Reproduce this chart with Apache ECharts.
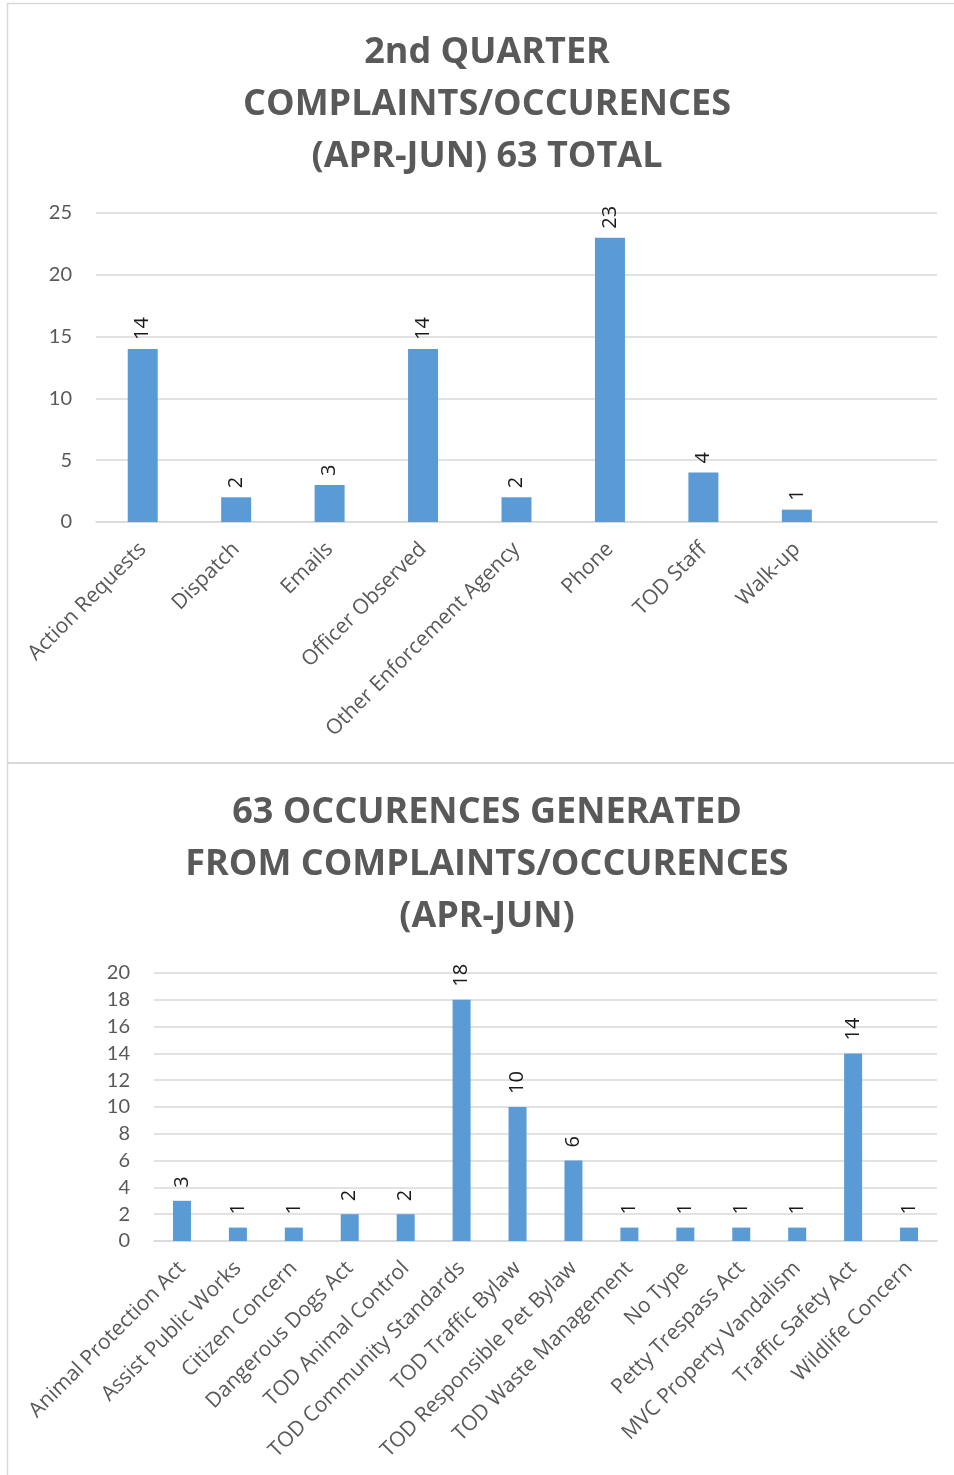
<!DOCTYPE html>
<html>
<head>
<meta charset="utf-8">
<script src="https://cdn.jsdelivr.net/npm/echarts@6/dist/echarts.min.js"></script>
<style>
  html, body { margin: 0; padding: 0; background: #fff; }
  #chart { width: 954px; height: 1475px; }
</style>
</head>
<body>
<div id="chart"></div>
<script>
// Complaint sources, April to June (last slot is an empty category)
const sourceCategories = ['Action Requests', 'Dispatch', 'Emails', 'Officer Observed',
  'Other Enforcement Agency', 'Phone', 'TOD Staff', 'Walk-up', ''];
const sourceCounts = [14, 2, 3, 14, 2, 23, 4, 1, null];

// Occurrence types generated from those complaints
const typeCategories = ['Animal Protection Act', 'Assist Public Works', 'Citizen Concern',
  'Dangerous Dogs Act', 'TOD Animal Control', 'TOD Community Standards', 'TOD Traffic Bylaw',
  'TOD Responsible Pet Bylaw', 'TOD Waste Management', 'No Type', 'Petty Trespass Act',
  'MVC Property Vandalism', 'Traffic Safety Act', 'Wildlife Concern'];
const typeCounts = [3, 1, 1, 2, 2, 18, 10, 6, 1, 1, 1, 1, 14, 1];

const topTitle = ['2nd QUARTER', 'COMPLAINTS/OCCURENCES', '(APR-JUN) 63 TOTAL'];
const bottomTitle = ['63 OCCURENCES GENERATED', 'FROM COMPLAINTS/OCCURENCES', '(APR-JUN)'];

const BAR = '#5b9bd5';
const GRID = '#d9d9d9';
const TEXT = '#595959';

const chart = echarts.init(document.getElementById('chart'), null, { renderer: 'canvas' });

function titleText(lines, top) {
  return {
    text: lines.join('\n'),
    left: 482, top: top,
    textAlign: 'center',
    textStyle: { fontFamily: 'Open Sans', fontWeight: 'bold', fontSize: 36, color: TEXT, lineHeight: 52 }
  };
}

function valueAxis(max, interval) {
  return {
    type: 'value', min: 0, max: max, interval: interval,
    axisLine: { show: false }, axisTick: { show: false },
    axisLabel: { color: TEXT, fontFamily: 'Lato', fontSize: 20, margin: 24 },
    splitLine: { lineStyle: { color: GRID, width: 1.5 } }
  };
}

function catAxis(gridIndex, cats) {
  return {
    type: 'category', gridIndex: gridIndex, data: cats,
    axisLine: { lineStyle: { color: GRID, width: 1.5 } },
    axisTick: { show: false },
    axisLabel: { rotate: 45, interval: 0, color: TEXT, fontFamily: 'Open Sans', fontSize: 21, margin: 24 }
  };
}

function barLabel(gap) {
  return {
    show: true, position: 'top', rotate: 90, align: 'left', verticalAlign: 'middle',
    distance: gap, color: '#1a1a1a', fontFamily: 'Open Sans', fontSize: 20
  };
}

const vTop = valueAxis(25, 5);
const vBot = valueAxis(20, 2);
vBot.gridIndex = 1;

chart.setOption({
  animation: false,
  backgroundColor: '#fff',
  title: [titleText(topTitle, 22), titleText(bottomTitle, 782)],
  grid: [
    { left: 96, right: 17, top: 213, height: 309 },
    { left: 154, right: 17, top: 973, height: 268 }
  ],
  xAxis: [catAxis(0, sourceCategories), catAxis(1, typeCategories)],
  yAxis: [vTop, vBot],
  series: [
    { type: 'bar', xAxisIndex: 0, yAxisIndex: 0, data: sourceCounts, barWidth: 30,
      itemStyle: { color: BAR }, label: barLabel(9) },
    { type: 'bar', xAxisIndex: 1, yAxisIndex: 1, data: typeCounts, barWidth: 18,
      itemStyle: { color: BAR }, label: barLabel(13) }
  ],
  graphic: [
    // panel frames
    { type: 'line', shape: { x1: 7.5, y1: 3, x2: 7.5, y2: 1475 }, style: { stroke: GRID, lineWidth: 1.5 } },
    { type: 'line', shape: { x1: 7, y1: 3.5, x2: 954, y2: 3.5 }, style: { stroke: GRID, lineWidth: 1.5 } },
    { type: 'line', shape: { x1: 7, y1: 763, x2: 954, y2: 763 }, style: { stroke: GRID, lineWidth: 2 } }
  ]
});
</script>
</body>
</html>
